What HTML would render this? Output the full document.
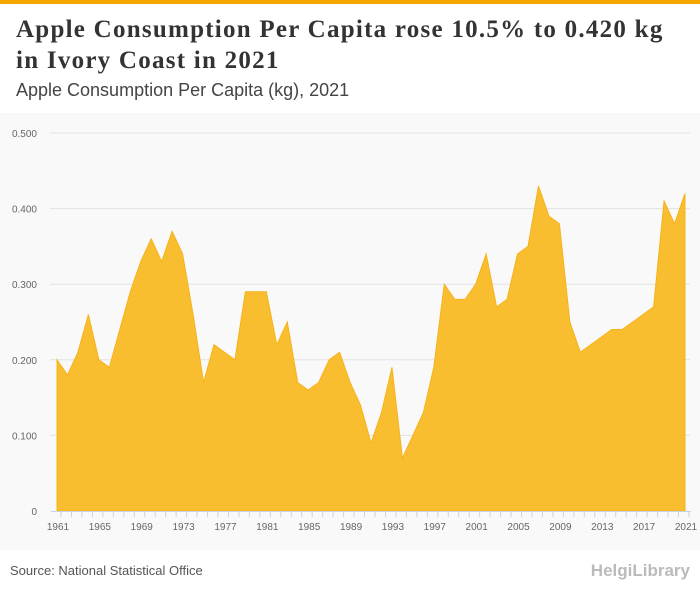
<!DOCTYPE html>
<html><head><meta charset="utf-8"><style>
body{margin:0;width:700px;height:596px;background:#fff;font-family:"Liberation Sans",sans-serif;position:relative;overflow:hidden}
.top{position:absolute;left:0;top:0;width:700px;height:4px;background:#f5a800}
h1{position:absolute;left:16px;top:14px;margin:0;font:bold 25px/31px "Liberation Serif",serif;color:#333;letter-spacing:1.25px;white-space:nowrap}
.sub{position:absolute;left:16px;top:80px;font-size:18px;color:#444}
.plot{position:absolute;left:0;top:113px;width:700px;height:437px;background:#f9f9f9}
.src{position:absolute;left:10px;top:563px;font-size:13px;color:#555}
.logo{position:absolute;right:10px;top:561px;font:bold 17px "Liberation Sans",sans-serif;color:#bbb}
</style></head><body>
<div class="top"></div>
<h1>Apple Consumption Per Capita rose 10.5% to 0.420 kg<br>in Ivory Coast in 2021</h1>
<div class="sub">Apple Consumption Per Capita (kg), 2021</div>
<div class="plot"></div>
<svg id="chart" width="700" height="596" style="position:absolute;left:0;top:0"></svg>
<div class="src">Source: National Statistical Office</div>
<div class="logo">HelgiLibrary</div>
<script>
const years=[];for(let y=1961;y<=2021;y++)years.push(y);
const values=[.20,.18,.21,.26,.20,.19,.24,.29,.33,.36,.33,.37,.34,.26,.17,.22,.21,.20,.29,.29,.29,.22,.25,.17,.16,.17,.20,.21,.17,.14,.09,.13,.19,.07,.10,.13,.19,.30,.28,.28,.30,.34,.27,.28,.34,.35,.43,.39,.38,.25,.21,.22,.23,.24,.24,.25,.26,.27,.41,.38,.42];
const yTicks=[0,0.1,0.2,0.3,0.4,0.5];
const yTickLabels=["0","0.100","0.200","0.300","0.400","0.500"];
const xLabelYears=[1961,1965,1969,1973,1977,1981,1985,1989,1993,1997,2001,2005,2009,2013,2017,2021];
const NS="http://www.w3.org/2000/svg";
const svg=document.getElementById('chart');
const x=y=>57+(y-1961)*(685-57)/60;
const yS=v=>511-v*756;
function mk(t,a){const e=document.createElementNS(NS,t);for(const k in a)e.setAttribute(k,a[k]);svg.appendChild(e);return e;}
yTicks.forEach((t,i)=>{
 if(t>0){const l=mk('line',{x1:50,x2:690,y1:yS(t),y2:yS(t),stroke:'#e2e2e2','stroke-width':1});
 
 }
 const tx=mk('text',{x:37,y:yS(t)+4,'text-anchor':'end','font-size':10,fill:'#666','font-family':'Liberation Sans, sans-serif'});
 tx.textContent=yTickLabels[i];
 
 
});
let d='M'+x(years[0])+','+yS(0);
years.forEach((yr,i)=>{d+=' L'+x(yr)+','+yS(values[i]);});
d+=' L'+x(years[years.length-1])+','+yS(0)+' Z';
const area=mk('path',{d:d,fill:'#f9b81e','fill-opacity':0.92,stroke:'#f6b21a','stroke-width':1});


const ax=mk('line',{x1:51,x2:691,y1:511.5,y2:511.5,stroke:'#c8d3e6','stroke-width':1});


years.forEach(yr=>{const t=mk('line',{x1:x(yr)+4,x2:x(yr)+4,y1:511,y2:517,stroke:'#c8d3e6'});
 
 });
xLabelYears.forEach(yr=>{const t=mk('text',{x:x(yr)+1,y:530,'text-anchor':'middle','font-size':10,fill:'#666','font-family':'Liberation Sans, sans-serif'});
 t.textContent=yr;
 
 });
</script>
</body></html>
